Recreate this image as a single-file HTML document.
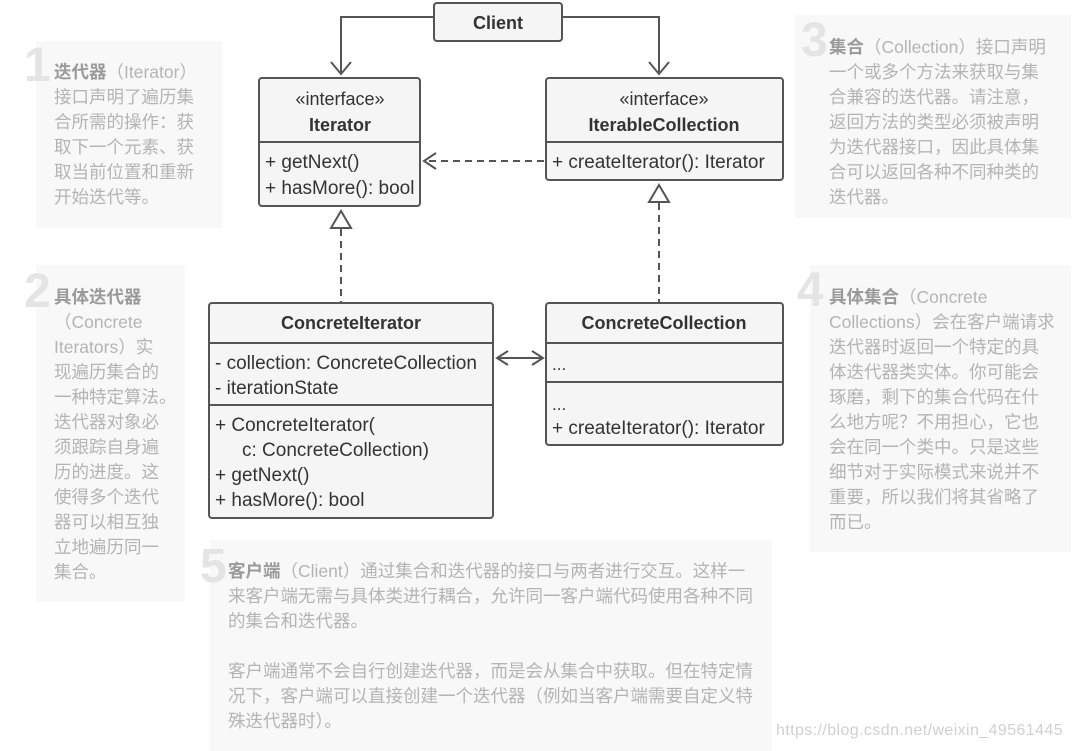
<!DOCTYPE html>
<html><head><meta charset="utf-8"><style>
body{margin:0;width:1081px;height:751px;background:#fff;position:relative;overflow:hidden;font-family:"Liberation Sans","Noto Sans CJK SC",sans-serif}
.p{position:absolute;background:#f8f8f8}
.t{position:absolute;color:#b4b4b4;font-size:17.5px;line-height:25px;white-space:pre;font-family:"Liberation Sans","Noto Sans CJK SC",sans-serif}
.t b{color:#9a9a9a}
.n{position:absolute;color:#e4e4e4;font-size:48px;font-weight:bold;font-family:"Liberation Sans",sans-serif;line-height:48px}
svg text{font-family:"Liberation Sans",sans-serif;fill:#333}
</style></head><body>
<div class="p" style="left:36px;top:41px;width:186px;height:187px"></div>
<div class="p" style="left:36px;top:265px;width:149px;height:337px"></div>
<div class="p" style="left:795px;top:15px;width:276px;height:203px"></div>
<div class="p" style="left:810px;top:265px;width:261px;height:287px"></div>
<div class="p" style="left:210px;top:540px;width:562px;height:211px"></div>
<div class="n" style="left:24px;top:42px">1</div>
<div class="n" style="left:24px;top:268px">2</div>
<div class="n" style="left:801px;top:17px">3</div>
<div class="n" style="left:797px;top:267px">4</div>
<div class="n" style="left:200px;top:543px">5</div>
<div class="t" style="left:54px;top:60px"><b>迭代器</b>（Iterator）
接口声明了遍历集
合所需的操作：获
取下一个元素、获
取当前位置和重新
开始迭代等。</div>
<div class="t" style="left:54px;top:285px"><b>具体迭代器</b>
（Concrete
Iterators）实
现遍历集合的
一种特定算法。
迭代器对象必
须跟踪自身遍
历的进度。这
使得多个迭代
器可以相互独
立地遍历同一
集合。</div>
<div class="t" style="left:829px;top:35px"><b>集合</b>（Collection）接口声明
一个或多个方法来获取与集
合兼容的迭代器。请注意，
返回方法的类型必须被声明
为迭代器接口，因此具体集
合可以返回各种不同种类的
迭代器。</div>
<div class="t" style="left:829px;top:285px"><b>具体集合</b>（Concrete
Collections）会在客户端请求
迭代器时返回一个特定的具
体迭代器类实体。你可能会
琢磨，剩下的集合代码在什
么地方呢？不用担心，它也
会在同一个类中。只是这些
细节对于实际模式来说并不
重要，所以我们将其省略了
而已。</div>
<div class="t" style="left:228px;top:559px"><b>客户端</b>（Client）通过集合和迭代器的接口与两者进行交互。这样一
来客户端无需与具体类进行耦合，允许同一客户端代码使用各种不同
的集合和迭代器。

客户端通常不会自行创建迭代器，而是会从集合中获取。但在特定情
况下，客户端可以直接创建一个迭代器（例如当客户端需要自定义特
殊迭代器时）。</div>
<div style="position:absolute;left:776px;top:722px;color:#d0d0d0;font-size:16px;letter-spacing:0.4px;font-family:'Liberation Sans',sans-serif">https://blog.csdn.net/weixin_49561445</div>
<svg width="1081" height="751" style="position:absolute;left:0;top:0" fill="none" stroke="#555" stroke-width="2">
<path d="M434 17H341V72M331 62L341 74L351 62"/>
<path d="M562 17H659V72M649 62L659 74L669 62"/>
<rect x="434" y="3" width="128" height="38" rx="3" fill="#f5f5f5"/>
<text x="498" y="29" text-anchor="middle" font-weight="bold" font-size="18" stroke="none">Client</text>
<rect x="259" y="78" width="161" height="128" rx="3" fill="#f5f5f5"/>
<line x1="259" y1="142" x2="420" y2="142"/>
<text x="340" y="105" text-anchor="middle" font-size="18" stroke="none">«interface»</text>
<text x="340" y="131" text-anchor="middle" font-weight="bold" font-size="18" stroke="none">Iterator</text>
<text x="265" y="168" font-size="19" stroke="none">+ getNext()</text>
<text x="265" y="194" font-size="19" stroke="none">+ hasMore(): bool</text>
<rect x="546" y="78" width="237" height="102" rx="3" fill="#f5f5f5"/>
<line x1="546" y1="142" x2="783" y2="142"/>
<text x="664" y="105" text-anchor="middle" font-size="18" stroke="none">«interface»</text>
<text x="664" y="131" text-anchor="middle" font-weight="bold" font-size="18" stroke="none">IterableCollection</text>
<text x="552" y="168" font-size="19" stroke="none">+ createIterator(): Iterator</text>
<path d="M544 161H424" stroke-dasharray="7 5"/>
<path d="M436 153L424 161L436 169"/>
<path d="M341 229V302" stroke-dasharray="7 5"/>
<path d="M331 228L341 211L351 228Z" fill="#fff"/>
<path d="M659 203V302" stroke-dasharray="7 5"/>
<path d="M649 202L659 185L669 202Z" fill="#fff"/>
<rect x="209" y="303" width="284" height="215" rx="3" fill="#f5f5f5"/>
<line x1="209" y1="343" x2="493" y2="343"/>
<line x1="209" y1="405" x2="493" y2="405"/>
<text x="351" y="329" text-anchor="middle" font-weight="bold" font-size="18" stroke="none">ConcreteIterator</text>
<text x="215" y="369" font-size="19" stroke="none">- collection: ConcreteCollection</text>
<text x="215" y="394" font-size="19" stroke="none">- iterationState</text>
<text x="215" y="431" font-size="19" stroke="none">+ ConcreteIterator(</text>
<text x="242" y="456" font-size="19" stroke="none">c: ConcreteCollection)</text>
<text x="215" y="481" font-size="19" stroke="none">+ getNext()</text>
<text x="215" y="506" font-size="19" stroke="none">+ hasMore(): bool</text>
<rect x="546" y="303" width="237" height="142" rx="3" fill="#f5f5f5"/>
<line x1="546" y1="343" x2="783" y2="343"/>
<line x1="546" y1="382" x2="783" y2="382"/>
<text x="664" y="329" text-anchor="middle" font-weight="bold" font-size="18" stroke="none">ConcreteCollection</text>
<text x="552" y="370" font-size="17" stroke="none">...</text>
<text x="552" y="410" font-size="17" stroke="none">...</text>
<text x="552" y="434" font-size="19" stroke="none">+ createIterator(): Iterator</text>
<path d="M498 358H542M508 351L497 358L508 365M532 351L543 358L532 365"/>
</svg>
</body></html>
